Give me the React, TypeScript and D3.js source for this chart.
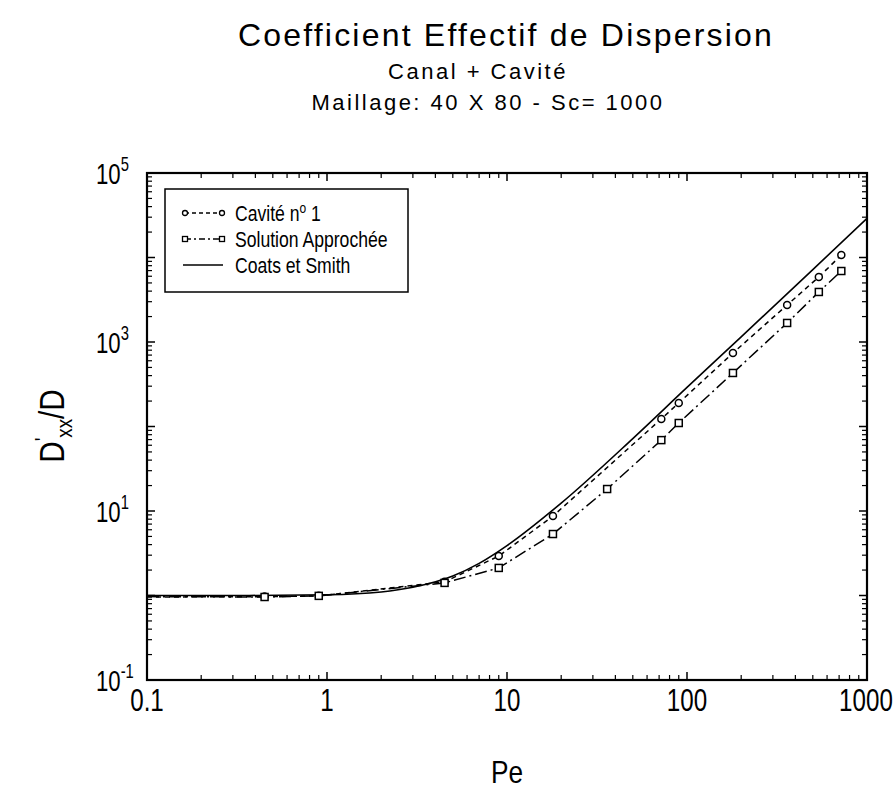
import React from 'react';
import * as d3 from 'd3';

// Pe values where the two numerical series were sampled
const cavitePe = [0.1, 0.45, 0.9, 4.5, 9, 18, 72, 90, 180, 360, 540, 720];
const caviteD = [0.96, 0.97, 0.99, 1.45, 2.93, 8.7, 123, 190, 740, 2740, 5880, 10700];

const approchePe = [0.1, 0.45, 0.9, 4.5, 9, 18, 36, 72, 90, 180, 360, 540, 720];
const approcheD = [0.97, 0.96, 0.99, 1.41, 2.12, 5.34, 18.2, 69, 110, 430, 1680, 3910, 6920];

// Coats et Smith curve
const coatsPe = [0.1, 0.3, 1, 2, 3, 5, 7, 10, 20, 50, 100, 200, 500, 1000];
const coatsD = [1.0, 1.0, 1.02, 1.1, 1.25, 1.7, 2.4, 3.9, 12.4, 72, 290, 1150, 7200, 29000];

const xTicks = [0.1, 1, 10, 100, 1000];
const xTickLabels = ['0.1', '1', '10', '100', '1000'];
const yExponents = [-1, 0, 1, 2, 3, 4, 5];
const yLabelExponents = [-1, 1, 3, 5];

const W = 894;
const H = 796;
const margin = { left: 147, right: 27, top: 173, bottom: 116 };
const font = "'Liberation Sans', Arial, sans-serif";

// narrow text: horizontal squeeze of Liberation Sans
const Narrow: React.FC<{ x: number; y: number; sx?: number; anchor?: string; size: number; children: React.ReactNode }> = ({
  x,
  y,
  sx = 0.8,
  anchor = 'start',
  size,
  children,
}) => (
  <text
    transform={`translate(${x},${y}) scale(${sx},1)`}
    textAnchor={anchor}
    fontFamily={font}
    fontSize={size}
    fill="#000"
  >
    {children}
  </text>
);

const App: React.FC = () => {
  const x = d3.scaleLog().domain([0.1, 1000]).range([margin.left, W - margin.right]);
  const y = d3.scaleLog().domain([0.1, 1e5]).range([H - margin.bottom, margin.top]);
  const x0 = margin.left;
  const x1 = W - margin.right;
  const y0 = H - margin.bottom;
  const y1 = margin.top;

  const line = d3
    .line<[number, number]>()
    .x((d) => x(d[0]))
    .y((d) => y(d[1]));

  const cav = cavitePe.map((p, i) => [p, caviteD[i]] as [number, number]);
  const app = approchePe.map((p, i) => [p, approcheD[i]] as [number, number]);
  const coats = d3
    .line<[number, number]>()
    .x((d) => x(d[0]))
    .y((d) => y(d[1]))
    .curve(d3.curveMonotoneX)(coatsPe.map((p, i) => [p, coatsD[i]] as [number, number]));

  // minor ticks
  const xMinor: number[] = [];
  for (let e = -1; e < 3; e++) for (let k = 2; k <= 9; k++) xMinor.push(k * Math.pow(10, e));
  const yMinor: number[] = [];
  for (let e = -1; e < 5; e++) for (let k = 2; k <= 9; k++) yMinor.push(k * Math.pow(10, e));

  const maj = 8;
  const min = 5;

  return (
    <svg width={W} height={H} style={{ position: 'absolute', left: 0, top: 0, background: '#fff' }}>
      <defs>
        <clipPath id="plot">
          <rect x={x0} y={y1} width={x1 - x0} height={y0 - y1} />
        </clipPath>
      </defs>
      {/* titles */}
      <text x={506} y={46} textAnchor="middle" fontFamily={font} fontSize={32} letterSpacing={2.2} fill="#000">
        Coefficient Effectif de Dispersion
      </text>
      <text x={478} y={79} textAnchor="middle" fontFamily={font} fontSize={22} letterSpacing={2.5} fill="#000">
        Canal + Cavité
      </text>
      <text x={488} y={110} textAnchor="middle" fontFamily={font} fontSize={22} letterSpacing={2.5} fill="#000">
        Maillage: 40 X 80 - Sc= 1000
      </text>

      {/* frame */}
      <rect x={x0} y={y1} width={x1 - x0} height={y0 - y1} fill="none" stroke="#000" strokeWidth={2.2} />

      {/* x ticks */}
      {xTicks.map((t) => (
        <g key={'xt' + t}>
          <line x1={x(t)} x2={x(t)} y1={y0} y2={y0 - maj} stroke="#000" strokeWidth={1.5} />
          <line x1={x(t)} x2={x(t)} y1={y1} y2={y1 + maj} stroke="#000" strokeWidth={1.5} />
        </g>
      ))}
      {xMinor.map((t) => (
        <g key={'xm' + t}>
          <line x1={x(t)} x2={x(t)} y1={y0} y2={y0 - min} stroke="#000" strokeWidth={1.2} />
          <line x1={x(t)} x2={x(t)} y1={y1} y2={y1 + min} stroke="#000" strokeWidth={1.2} />
        </g>
      ))}
      {xTicks.map((t, i) => (
        <Narrow key={'xl' + t} x={i === xTicks.length - 1 ? x(t) - 1 : x(t)} y={711} anchor="middle" size={31} sx={0.78}>
          {xTickLabels[i]}
        </Narrow>
      ))}

      {/* y ticks */}
      {yExponents.map((e) => {
        const v = Math.pow(10, e);
        return (
          <g key={'yt' + e}>
            <line x1={x0} x2={x0 + maj} y1={y(v)} y2={y(v)} stroke="#000" strokeWidth={1.5} />
            <line x1={x1} x2={x1 - maj} y1={y(v)} y2={y(v)} stroke="#000" strokeWidth={1.5} />
          </g>
        );
      })}
      {yMinor.map((v) => (
        <g key={'ym' + v}>
          <line x1={x0} x2={x0 + min} y1={y(v)} y2={y(v)} stroke="#000" strokeWidth={1.2} />
          <line x1={x1} x2={x1 - min} y1={y(v)} y2={y(v)} stroke="#000" strokeWidth={1.2} />
        </g>
      ))}
      {yLabelExponents.map((e) => (
        <Narrow key={'yl' + e} x={96} y={y(Math.pow(10, e)) + 11} size={30} sx={0.74}>
          10
          <tspan dy={-13} fontSize={20}>{e}</tspan>
        </Narrow>
      ))}

      {/* axis titles */}
      <Narrow x={507} y={783} anchor="middle" size={32} sx={0.82}>
        Pe
      </Narrow>
      <text transform="translate(64,426) rotate(-90) scale(0.85,1)" textAnchor="middle" fontFamily={font} fontSize={35} fill="#000">
        D<tspan dy={-14} fontSize={22}>'</tspan>
        <tspan dy={22} fontSize={22}>xx</tspan>
        <tspan dy={-8}>/D</tspan>
      </text>

      {/* curves */}
      <g clipPath="url(#plot)" fill="none" stroke="#000">
        <path d={coats || ''} strokeWidth={1.6} />
        <path d={line(cav) || ''} strokeWidth={1.5} strokeDasharray="5,4" />
        <path d={line(app) || ''} strokeWidth={1.5} strokeDasharray="12,4,2,4" />
      </g>
      {cav
        .filter((d) => d[0] > 0.1)
        .map((d, i) => (
          <circle key={'c' + i} cx={x(d[0])} cy={y(d[1])} r={3.5} fill="#fff" stroke="#000" strokeWidth={1.5} />
        ))}
      {app
        .filter((d) => d[0] > 0.1)
        .map((d, i) => (
          <rect key={'s' + i} x={x(d[0]) - 3.5} y={y(d[1]) - 3.5} width={7} height={7} fill="#fff" stroke="#000" strokeWidth={1.5} />
        ))}

      {/* legend */}
      <rect x={165} y={189} width={243} height={103} fill="#fff" stroke="#000" strokeWidth={1.5} />
      <line x1={185} x2={222} y1={213} y2={213} stroke="#000" strokeWidth={1.5} strokeDasharray="4,3" />
      <circle cx={185} cy={213} r={2.5} fill="#fff" stroke="#000" strokeWidth={1.3} />
      <circle cx={222} cy={213} r={2.5} fill="#fff" stroke="#000" strokeWidth={1.3} />
      <line x1={185} x2={222} y1={239} y2={239} stroke="#000" strokeWidth={1.5} strokeDasharray="6,3,2,3" />
      <rect x={182.5} y={236.5} width={5} height={5} fill="#fff" stroke="#000" strokeWidth={1.3} />
      <rect x={219.5} y={236.5} width={5} height={5} fill="#fff" stroke="#000" strokeWidth={1.3} />
      <line x1={183} x2={223} y1={265} y2={265} stroke="#000" strokeWidth={1.5} />
      <Narrow x={235} y={221} size={22} sx={0.8}>
        Cavité n<tspan dy={-8} fontSize={15}>o</tspan>
        <tspan dy={8}> 1</tspan>
      </Narrow>
      <Narrow x={235} y={247} size={22} sx={0.8}>
        Solution Approchée
      </Narrow>
      <Narrow x={235} y={273} size={22} sx={0.8}>
        Coats et Smith
      </Narrow>
    </svg>
  );
};

export default App;
